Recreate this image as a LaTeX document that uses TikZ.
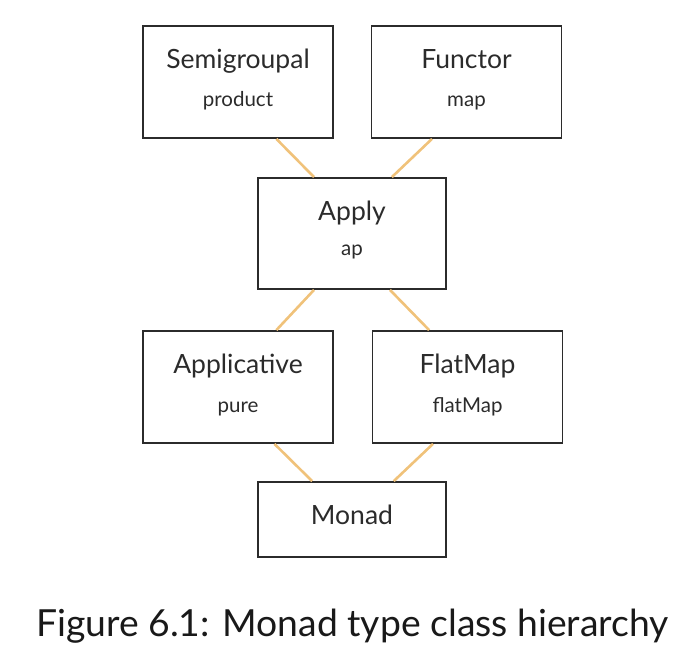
\documentclass[tikz,border=0pt]{standalone}
\usepackage{fontspec}
\setmainfont{Lato}
\usetikzlibrary{calc}
\definecolor{edgecol}{HTML}{F0C27A}
\definecolor{txt}{HTML}{2B2B2B}
\tikzset{
  cls/.style={draw=txt, line width=1.8pt, minimum width=190pt, minimum height=112pt, inner sep=0pt},
  clsshort/.style={cls, minimum width=188pt, minimum height=75pt},
  ttl/.style={anchor=base, text=txt, font=\fontsize{26.5}{30}\selectfont, inner sep=0pt},
  sub/.style={anchor=base, text=txt, font=\fontsize{20.5}{24}\selectfont, inner sep=0pt},
  link/.style={draw=edgecol, line width=2.6pt},
}
\begin{document}
\begin{tikzpicture}[x=1pt,y=-1pt]
\useasboundingbox (0,0) rectangle (699,655);
\node[cls] (semi) at (238,82) {};
\node[cls] (func) at (466.5,82) {};
\node[cls, minimum width=188pt, minimum height=111pt] (apply) at (352,233.5) {};
\node[cls] (appl) at (238,387) {};
\node[cls] (flat) at (467.5,387) {};
\node[clsshort] (monad) at (352,519.5) {};

\node[ttl] (semit) at (238,69) {Semigroupal};
\node[sub] (semis) at (238,107) {product};
\node[ttl] (funct) at (466.5,69) {Functor};
\node[sub] (funcs) at (466.5,107) {map};
\node[ttl] (applyt) at (352,221) {Apply};
\node[sub] (applys) at (352,256) {ap};
\node[ttl] (applt) at (238,373) {Applicative};
\node[sub] (appls) at (238,412) {pure};
\node[ttl] (flatt) at (467.5,373) {FlatMap};
\node[sub] (flats) at (467.5,412) {flatMap};
\node[ttl] (monadt) at (352,524) {Monad};

\node[anchor=base, text=black!90, font=\fontsize{37.3}{40}\selectfont, inner sep=0pt] (cap) at (352.5,636) {Figure 6.1: Monad type class hierarchy};

\draw[link] ($(semi.south west)!0.7!(semi.south east)$) -- ($(apply.north west)!0.3!(apply.north east)$);
\draw[link] ($(func.south west)!0.32!(func.south east)$) -- ($(apply.north west)!0.71!(apply.north east)$);
\draw[link] ($(apply.south west)!0.3!(apply.south east)$) -- ($(appl.north west)!0.7!(appl.north east)$);
\draw[link] ($(apply.south west)!0.7!(apply.south east)$) -- ($(flat.north west)!0.3!(flat.north east)$);
\draw[link] ($(appl.south west)!0.69!(appl.south east)$) -- ($(monad.north west)!0.29!(monad.north east)$);
\draw[link] ($(flat.south west)!0.32!(flat.south east)$) -- ($(monad.north west)!0.72!(monad.north east)$);
\end{tikzpicture}
\end{document}
